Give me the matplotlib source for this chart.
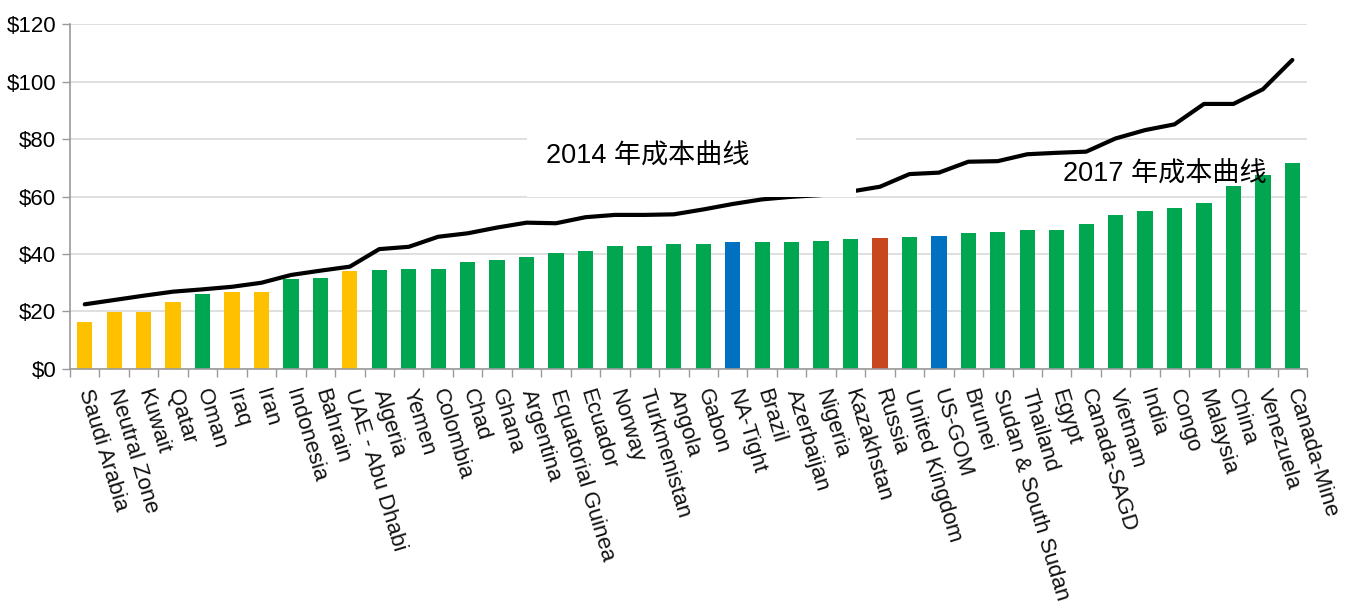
import matplotlib.pyplot as plt
import matplotlib.patches as patches
import numpy as np

plt.rcParams['font.family'] = ['Liberation Sans', 'Noto Sans CJK SC', 'DejaVu Sans']

countries = ['Saudi Arabia', 'Neutral Zone', 'Kuwait', 'Qatar', 'Oman', 'Iraq', 'Iran',
             'Indonesia', 'Bahrain', 'UAE - Abu Dhabi', 'Algeria', 'Yemen', 'Colombia',
             'Chad', 'Ghana', 'Argentina', 'Equatorial Guinea', 'Ecuador', 'Norway',
             'Turkmenistan', 'Angola', 'Gabon', 'NA-Tight', 'Brazil', 'Azerbaijan',
             'Nigeria', 'Kazakhstan', 'Russia', 'United Kingdom', 'US-GOM', 'Brunei',
             'Sudan & South Sudan', 'Thailand', 'Egypt', 'Canada-SAGD', 'Vietnam', 'India',
             'Congo', 'Malaysia', 'China', 'Venezuela', 'Canada-Mine']

# 2017 breakeven cost per barrel (bars)
cost_2017 = [16.4, 19.7, 19.7, 23.2, 26.1, 26.9, 26.9, 31.3, 31.8, 34.2, 34.5, 34.9, 34.9,
             37.3, 37.9, 38.9, 40.2, 40.9, 42.9, 42.9, 43.5, 43.5, 44.1, 44.1, 44.1,
             44.5, 45.1, 45.6, 45.8, 46.1, 47.2, 47.7, 48.2, 48.2, 50.3, 53.6, 55.0,
             55.9, 57.7, 63.5, 67.5, 71.5]

# 2014 cost curve (line)
cost_2014 = [22.5, 24.0, 25.5, 26.9, 27.7, 28.6, 30.0, 32.7, 34.2, 35.6, 41.7, 42.5, 46.0,
             47.2, 49.2, 50.9, 50.7, 52.8, 53.6, 53.6, 53.8, 55.5, 57.4, 59.0, 59.9,
             60.5, 61.7, 63.4, 67.8, 68.3, 72.1, 72.3, 74.7, 75.2, 75.6, 80.2, 83.1,
             85.1, 92.2, 92.2, 97.3, 107.5]

yellow_group = ['Saudi Arabia', 'Neutral Zone', 'Kuwait', 'Qatar', 'Iraq', 'Iran', 'UAE - Abu Dhabi']
blue_group = ['NA-Tight', 'US-GOM']
red_group = ['Russia']

yticks = [0, 20, 40, 60, 80, 100, 120]


def bar_color(name):
    if name in yellow_group:
        return '#FFC000'
    if name in blue_group:
        return '#0070C0'
    if name in red_group:
        return '#C9471F'
    return '#00A650'


fig = plt.figure(figsize=(13.57, 6.08), dpi=100)
ax = fig.add_axes([0.0516, 0.3931, 0.9116, 0.5674])

x = np.arange(len(countries))
ax.bar(x, cost_2017, width=0.52, color=[bar_color(c) for c in countries], zorder=2)
ax.plot(x, cost_2014, color='black', lw=3, solid_capstyle='round', zorder=3)

ax.set_xlim(-0.5, len(countries) - 0.5)
ax.set_ylim(0, 120)
ax.set_yticks(yticks)
ax.set_yticklabels(['$%d' % v for v in yticks], fontsize=16)
ax.grid(axis='y', color='#d9d9d9', lw=1.2, zorder=0)

ax.set_xticks(x)
ax.set_xticklabels(countries, fontsize=16, rotation=-73, ha='left', va='center',
                   rotation_mode='anchor', color='#111111')
ax.set_xticks(np.arange(len(countries) + 1) - 0.5, minor=True)
ax.tick_params(axis='x', which='major', length=0, pad=15)
ax.tick_params(axis='x', which='minor', length=6, color='#9a9a9a', width=1)
ax.tick_params(axis='y', length=6, color='#9a9a9a', width=1, pad=4)

for side in ['top', 'right']:
    ax.spines[side].set_visible(False)
for side in ['left', 'bottom']:
    ax.spines[side].set_color('#9a9a9a')
    ax.spines[side].set_linewidth(1.2)

# white label box over the 2014 curve
box = patches.Rectangle((15.02, 59.8), 11.17, 22.3, facecolor='white',
                        edgecolor='none', zorder=4)
ax.add_patch(box)
ax.text(15.65, 73.8, '2014 年成本曲线', fontsize=19.5, va='center', ha='left', zorder=5)
ax.text(33.2, 67.6, '2017 年成本曲线', fontsize=19.5, va='center', ha='left', zorder=5)

fig.savefig('out.png', dpi=100)
